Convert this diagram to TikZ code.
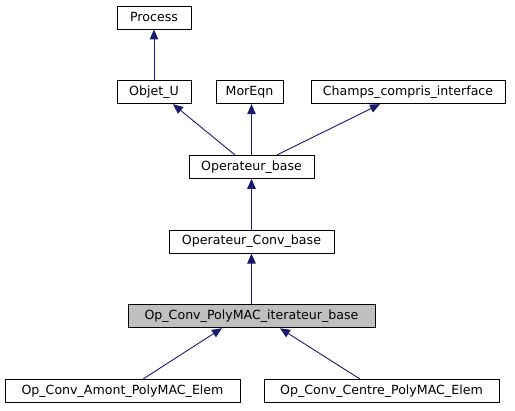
\documentclass[tikz,border=0pt]{standalone}
\usepackage{fontspec}
\setmainfont{DejaVu Sans}
\usetikzlibrary{arrows.meta}
\definecolor{edgeblue}{RGB}{25,25,112}
\definecolor{hlgrey}{RGB}{191,191,191}
\begin{document}
\begin{tikzpicture}[x=1pt,y=1pt,
  cls/.style={draw=black,line width=0.9pt,fill=white,minimum height=23pt,inner sep=0pt,
    font=\fontsize{12.6}{15}\selectfont},
  cur/.style={cls,fill=hlgrey},
  inh/.style={draw=edgeblue,line width=0.9pt,-{Triangle[length=10pt,width=8.5pt]},color=edgeblue}]
\useasboundingbox (0,0) rectangle (515,411);
\fill[white] (0,0) rectangle (515,411);
% rows (y from top): 17.5, 92.2, 166.9, 241.6, 316.3, 391
\node[cls,minimum width=74pt]  (pr) at (154,393.5) {Process};
\node[cls,minimum width=74pt]  (ou) at (154,318.8) {Objet\_U};
\node[cls,minimum width=67pt]  (me) at (249.5,318.8) {MorEqn};
\node[cls,minimum width=194pt] (ch) at (408,318.8) {Champs\_compris\_interface};
\node[cls,minimum width=125pt] (ob) at (251.5,244.1) {Operateur\_base};
\node[cls,minimum width=165pt] (oc) at (251.5,169.4) {Operateur\_Conv\_base};
\node[cur,minimum width=247pt] (pm) at (251.5,94.7) {Op\_Conv\_PolyMAC\_iterateur\_base};
\node[cls,minimum width=235pt] (am) at (122.5,20) {Op\_Conv\_Amont\_PolyMAC\_Elem};
\node[cls,minimum width=235pt] (ce) at (381.5,20) {Op\_Conv\_Centre\_PolyMAC\_Elem};
% edges
\draw[inh] (ou.north) -- (pr.south);
\draw[inh] ([xshift=-16.5pt]ob.north) -- ([xshift=19pt]ou.south);
\draw[inh] (ob.north) -- (ob.north |- me.south);
\draw[inh] ([xshift=25.5pt]ob.north) -- ([xshift=-28pt]ch.south);
\draw[inh] (oc.north) -- (ob.south);
\draw[inh] (pm.north) -- (oc.south);
\draw[inh] ([xshift=20.5pt]am.north) -- ([xshift=-29.5pt]pm.south);
\draw[inh] ([xshift=-21.5pt]ce.north) -- ([xshift=28.5pt]pm.south);
\end{tikzpicture}
\end{document}
